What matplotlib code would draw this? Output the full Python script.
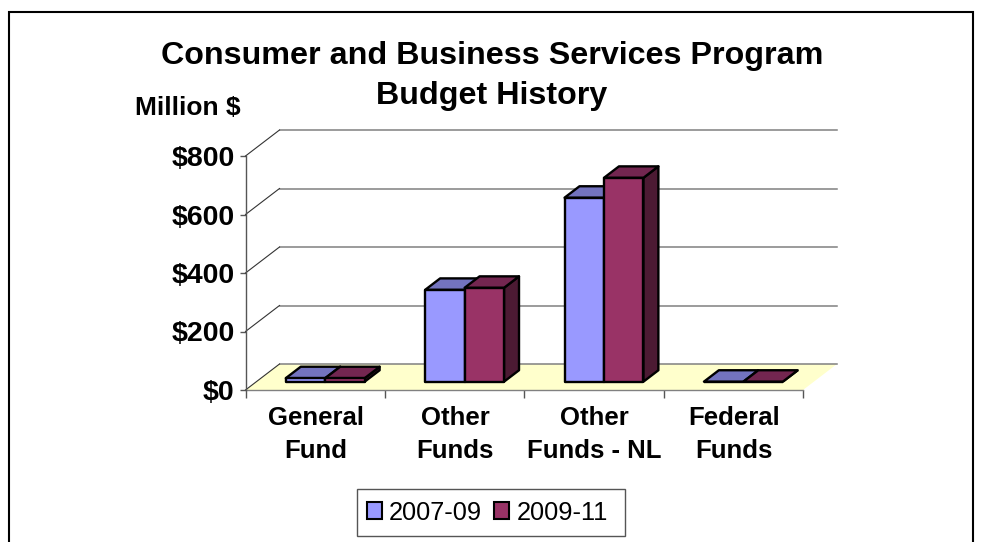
import numpy as np
import matplotlib
matplotlib.use("Agg")
import matplotlib.pyplot as plt
from matplotlib.patches import Polygon, Rectangle

plt.rcParams["font.family"] = ["Liberation Sans", "DejaVu Sans"]

categories = ["General\nFund", "Other\nFunds", "Other\nFunds - NL", "Federal\nFunds"]
series_names = ["2007-09", "2009-11"]
values_0709 = [12, 314, 629, 0]
values_0911 = [12, 321, 697, 0]
y_ticks = [0, 200, 400, 600, 800]
y_labels = ["$0", "$200", "$400", "$600", "$800"]

fronts = ["#9999FF", "#993366"]
tops = ["#7373BF", "#732650"]
sides = ["#4C4C80", "#4C1A33"]
W, H = 988, 542

# front plane of the fake 3d box, in pixels
X0, X1 = 245.5, 803
Y0, Y1 = 390, 156
DX = 34 / ((X1 - X0) / 4)
DY = 26 / ((Y0 - Y1) / 800)
BAR_W = 0.283
BAR_POS = 0.32
BAR_D = 0.44
BAR_SHIFT = -0.006

fig = plt.figure(figsize=(W / 100, H / 100), dpi=100, facecolor="white")
ax = fig.add_axes([X0 / W, 1 - Y0 / H, (X1 - X0) / W, (Y0 - Y1) / H])
ax.set_xlim(0, 4)
ax.set_ylim(0, 800)
ax.patch.set_alpha(0)
for sp in ["top", "right", "bottom"]:
    ax.spines[sp].set_visible(False)
ax.spines["left"].set_color("#555555")
ax.spines["left"].set_linewidth(1)

# floor
ax.add_patch(Polygon([(0, 0), (4, 0), (4 + DX, DY), (DX, DY)], closed=True, fc="#FFFFCC", ec="none", clip_on=False, zorder=1))

# walls
for v in y_ticks:
    ax.plot([DX, 4 + DX], [v + DY, v + DY], color="#808080", lw=1.1, clip_on=False, zorder=1.5)
    ax.plot([0, DX], [v, v + DY], color="#333333", lw=0.8, clip_on=False, zorder=1.6)
ax.plot([0, 4], [0, 0], color="#808080", lw=1, clip_on=False, zorder=2)


def draw_bar(x, v, k):
    x0 = x + DX * BAR_POS
    y0 = DY * BAR_POS
    x1 = x0 + BAR_W
    dx = DX * BAR_D
    dy = DY * BAR_D
    z = 3 + k * 0.1
    style = dict(ec="black", lw=1.7, clip_on=False, zorder=z, joinstyle="round")
    ax.add_patch(Polygon([(x1, y0), (x1 + dx, y0 + dy), (x1 + dx, y0 + v + dy), (x1, y0 + v)], closed=True, fc=sides[k], **style))
    ax.add_patch(Polygon([(x0, y0 + v), (x1, y0 + v), (x1 + dx, y0 + v + dy), (x0 + dx, y0 + v + dy)], closed=True, fc=tops[k], **style))
    ax.add_patch(Rectangle((x0, y0), BAR_W, v, fc=fronts[k], **style))


for i in range(len(categories)):
    draw_bar(i + 0.5 - BAR_W + BAR_SHIFT, values_0709[i], 0)
    draw_bar(i + 0.5 + BAR_SHIFT, values_0911[i], 1)

ax.set_xticks(range(5))
ax.set_xticklabels([])
ax.tick_params(axis="x", length=6, width=1, color="#555555", direction="out")
ax.set_yticks(y_ticks)
ax.set_yticklabels(y_labels, fontsize=20.5, fontweight="bold", color="black")
ax.tick_params(axis="y", length=4, width=1, color="#555555", pad=4)

for i, c in enumerate(categories):
    fig.text((X0 + (i + 0.5) * (X1 - X0) / 4 + 0.5) / W, 1 - 434.5 / H, c, ha="center", va="center",
             fontsize=18.5, fontweight="bold", linespacing=1.5)

# title lines are separate texts, the long first line would box over Million $ otherwise
fig.text(492 / W, 1 - 56 / H, "Consumer and Business Services Program", ha="center", va="center", fontsize=23.2, fontweight="bold")
fig.text(492 / W, 1 - 96 / H, "Budget History", ha="center", va="center", fontsize=23.2, fontweight="bold")
fig.text(187.5 / W, 1 - 108 / H, "Million $", ha="center", va="center", fontsize=19, fontweight="bold")

# outer frame
fig.add_artist(Rectangle((8.5 / W, -0.05), 964 / W, 1.05 - 12 / H, transform=fig.transFigure, fc="none", ec="black", lw=1.5))

# legend box drawn by hand so the padding can be uneven like the original
fig.add_artist(Rectangle((357 / W, 1 - 536 / H), 268 / W, 47 / H, transform=fig.transFigure, fc="white", ec="#555555", lw=1))
handles = [Rectangle((0, 0), 1, 1, fc=fronts[k], ec="black", lw=1.5) for k in range(2)]
leg = fig.legend(handles, series_names, loc="center left", bbox_to_anchor=(367 / W, 1 - 512.5 / H), ncol=2, fontsize=18.3,
                 frameon=False, handlelength=0.6, handleheight=0.6,
                 handletextpad=0.27, columnspacing=0.47, borderpad=0, borderaxespad=0)

fig.savefig("out.png", dpi=100)
